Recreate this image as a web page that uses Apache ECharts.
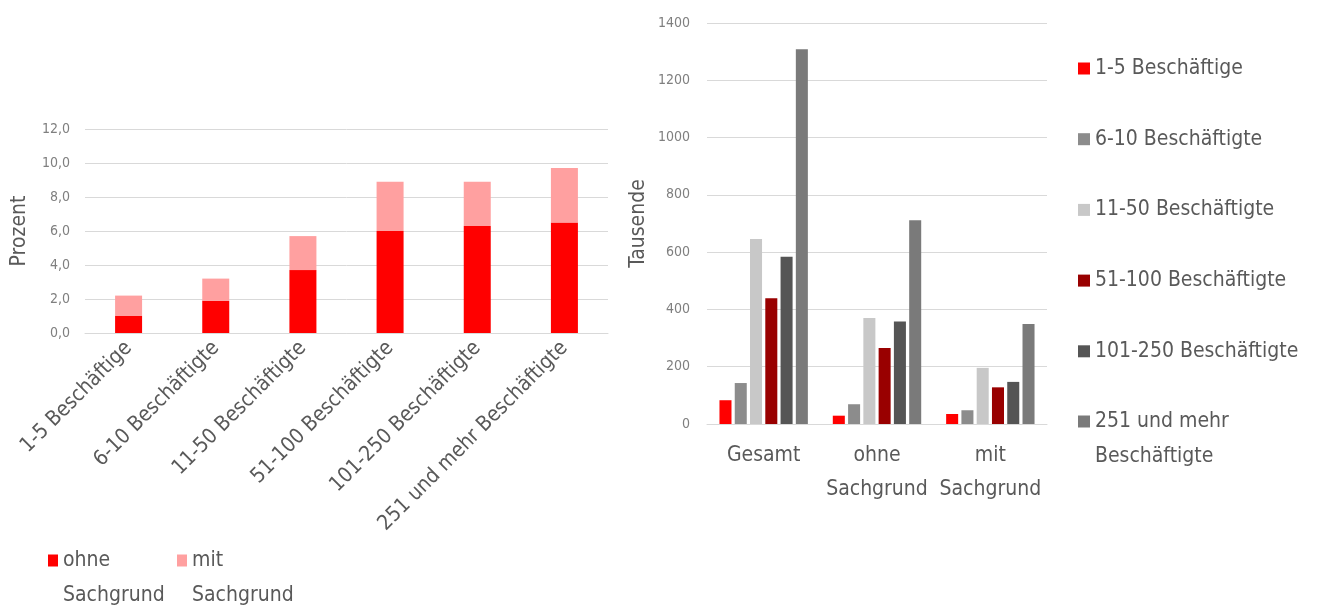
<!DOCTYPE html>
<html>
<head>
    <meta charset="utf-8">
    <title>Befristete Beschäftigung</title>
    <script src="https://cdn.jsdelivr.net/npm/echarts@6/dist/echarts.min.js"></script>
    <style>
        html, body { margin: 0; padding: 0; background: #fff; }
    </style>
</head>
<body>
    <div id="main" style="width: 1317px;height:608px;"></div>
    <script type="text/javascript">
        // left chart: Anteil in Prozent
        var leftCats = ['1-5 Beschäftige', '6-10 Beschäftigte', '11-50 Beschäftigte',
                        '51-100 Beschäftigte', '101-250 Beschäftigte', '251 und mehr Beschäftigte'];
        var ohneSachgrund = [1.0, 1.9, 3.7, 6.0, 6.3, 6.5];
        var mitSachgrund = [1.2, 1.3, 2.0, 2.9, 2.6, 3.2];

        // right chart: Tausende
        var groups = ['Gesamt', 'ohne\nSachgrund', 'mit\nSachgrund'];
        var sizeNames = ['1-5 Beschäftige', '6-10 Beschäftigte', '11-50 Beschäftigte',
                         '51-100 Beschäftigte', '101-250 Beschäftigte', '251 und mehr Beschäftigte'];
        var size1 = [83, 29, 35];
        var size2 = [143, 69, 48];
        var size3 = [646, 370, 196];
        var size4 = [439, 265, 128];
        var size5 = [584, 358, 147];
        var size6 = [1308, 711, 349];
        var sizeValues = [size1, size2, size3, size4, size5, size6];
        var sizeColors = ['#FF0000', '#8C8C8C', '#C8C8C8', '#990000', '#555555', '#7A7A7A'];

        var font = '"Liberation Sans Narrow", "DejaVu Sans Condensed", "Noto Sans", sans-serif';
        var gridColor = '#D9D9D9';

        var myChart = echarts.init(document.getElementById('main'));

        var series = [
            {
                name: 'ohne Sachgrund', type: 'bar', stack: 'left',
                xAxisIndex: 0, yAxisIndex: 0, barWidth: 27,
                itemStyle: { color: '#FF0000' },
                data: ohneSachgrund
            },
            {
                name: 'mit Sachgrund', type: 'bar', stack: 'left',
                xAxisIndex: 0, yAxisIndex: 0, barWidth: 27,
                itemStyle: { color: '#FFA0A0' },
                data: mitSachgrund
            }
        ];

        for (var i = 0; i < sizeNames.length; i++) {
            series.push({
                name: sizeNames[i], type: 'bar',
                xAxisIndex: 1, yAxisIndex: 1,
                barGap: '27%', barCategoryGap: '22%',
                itemStyle: { color: sizeColors[i] },
                data: sizeValues[i]
            });
        }

        var legendText = { fontFamily: font, fontSize: 21, color: '#595959', lineHeight: 35 };

        // leading empty line keeps the first text line level with the icon
        function wrapName(n) {
            if (n === '251 und mehr Beschäftigte') return '\n251 und mehr\nBeschäftigte';
            return '\n' + n.replace(' ', '\n');
        }

        var option = {
            animation: false,
            textStyle: { fontFamily: font },
            legend: [
                {
                    data: ['ohne Sachgrund'], textStyle: legendText, padding: 0,
                    left: 48, top: 508, icon: 'rect', itemWidth: 10, itemHeight: 12,
                    formatter: wrapName
                },
                {
                    data: ['mit Sachgrund'], textStyle: legendText, padding: 0,
                    left: 177, top: 508, icon: 'rect', itemWidth: 10, itemHeight: 12,
                    formatter: wrapName
                },
                {
                    data: sizeNames.slice(0, 5), orient: 'vertical', textStyle: legendText, padding: 0,
                    left: 1078, top: 51, icon: 'rect', itemWidth: 12, itemHeight: 12,
                    itemGap: 35.7
                },
                {
                    data: [sizeNames[5]], orient: 'vertical', textStyle: legendText, padding: 0,
                    left: 1078, top: 369, icon: 'rect', itemWidth: 12, itemHeight: 12,
                    formatter: wrapName
                }
            ],
            grid: [
                { left: 85, right: 709, top: 129, bottom: 275 },
                { left: 707, right: 270, top: 23, bottom: 184 }
            ],
            xAxis: [
                {
                    type: 'category', gridIndex: 0, data: leftCats,
                    axisLine: { lineStyle: { color: gridColor } },
                    axisTick: { show: false },
                    axisLabel: { rotate: 45, fontSize: 21, color: '#595959', margin: 12, interval: 0 }
                },
                {
                    type: 'category', gridIndex: 1, data: groups,
                    axisLine: { lineStyle: { color: gridColor } },
                    axisTick: { show: false },
                    axisLabel: { fontSize: 21, color: '#595959', margin: 15, lineHeight: 34, interval: 0 }
                }
            ],
            yAxis: [
                {
                    type: 'value', gridIndex: 0, min: 0, max: 12, interval: 2,
                    name: 'Prozent', nameLocation: 'middle', nameGap: 55,
                    nameTextStyle: { fontSize: 21, color: '#595959' },
                    splitLine: { lineStyle: { color: gridColor } },
                    axisLabel: {
                        fontSize: 14, color: '#7F7F7F', margin: 15,
                        formatter: function (v) { return v.toFixed(1).replace('.', ','); }
                    }
                },
                {
                    type: 'value', gridIndex: 1, min: 0, max: 1400, interval: 200,
                    name: 'Tausende', nameLocation: 'middle', nameGap: 58,
                    nameTextStyle: { fontSize: 21, color: '#595959' },
                    splitLine: { lineStyle: { color: gridColor } },
                    axisLabel: {
                        fontSize: 14, color: '#7F7F7F', margin: 17,
                        formatter: function (v) { return String(v); }
                    }
                }
            ],
            series: series
        };
        myChart.setOption(option);
    </script>
</body>
</html>
